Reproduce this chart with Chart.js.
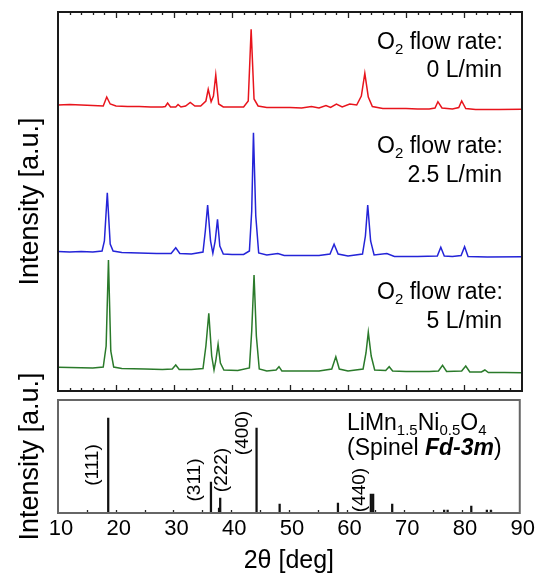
<!DOCTYPE html>
<html>
<head>
<meta charset="utf-8">
<script src="https://cdn.jsdelivr.net/npm/chart.js@4.4.1/dist/chart.umd.min.js"></script>
<style>
  html, body { margin: 0; padding: 0; background: #fff; }
  #wrap { position: relative; width: 535px; height: 584px; }
  #wrap canvas { position: absolute; left: 0; top: 0; }
</style>
</head>
<body>
<div id="wrap">
  <canvas id="xrd" width="535" height="584"></canvas>
  <canvas id="ref" width="535" height="584"></canvas>
</div>
<script>
// ---- measured patterns: 2θ [deg] and intensity [a.u.], curves already offset for stacking ----
const red2t = [10, 12, 14, 16, 17.8, 18.4, 19.0, 20, 22, 24, 26, 28, 28.5, 28.9, 29.4, 30.3, 30.7, 31.2, 32, 32.8,
  33.6, 34.6, 35.5, 35.9, 36.4, 36.8, 37.2, 37.7, 38.5, 40, 42, 42.8, 43.3, 43.8, 44.5, 46, 48, 50, 52, 53.7,
  55, 56.2, 57.0, 58.0, 59, 60.3, 61.5, 62.3, 62.9, 63.5, 64.2, 66, 70, 72, 74, 75.0, 75.5, 76.2, 78, 79.1,
  79.6, 80.3, 82, 86, 90];
const redInt = [286, 286.5, 286, 285.5, 285, 294, 287, 285, 284.5, 284.5, 284, 284, 284.5, 288, 284, 284, 286.5, 284, 285, 288.5,
  285, 285, 290, 301.7, 289.3, 295, 316, 287, 284, 284, 284, 290, 361.7, 292, 285, 283.5, 283.5, 283.5, 283, 284.5,
  283, 285.5, 283.5, 287, 284, 287, 286, 295, 317.7, 294, 284.5, 282.5, 282.5, 282, 282, 283, 289.3, 283, 282, 283.5,
  290, 282.5, 281.5, 281.5, 281.7];

const blue2t = [10, 12, 14, 16, 17.6, 18.0, 18.5, 19.0, 19.5, 21, 24, 27, 29.5, 30.3, 31.0, 33, 35.0, 35.4, 35.8, 36.3,
  36.7, 37.1, 37.5, 37.9, 38.5, 40, 42, 43.0, 43.4, 43.7, 44.1, 44.6, 46, 47.9, 49, 52, 55, 56.9, 57.6, 58.3,
  60, 62.5, 63.0, 63.4, 63.9, 64.5, 66.7, 68, 72, 75.4, 76.0, 76.6, 78, 79.5, 80.1, 80.7, 84, 90];
const blueInt = [139.5, 139, 139.5, 139, 140, 150, 198.3, 147, 140, 138.5, 138, 137.5, 137.5, 143.3, 137.5, 137, 139, 160, 186, 150,
  137.7, 150, 171.7, 145, 137, 136.5, 136.5, 140, 180, 258.3, 175, 138, 136, 137.5, 135.5, 135.5, 135.5, 137, 146.7, 137,
  135, 137, 155, 186, 150, 136, 137.5, 134.5, 134.5, 135, 143.7, 135, 134.5, 135.5, 144.3, 134.5, 134, 134.3];

const green2t = [10, 12, 14, 16, 17.8, 18.3, 18.7, 19.1, 19.6, 21, 25, 28, 29.7, 30.3, 30.9, 33, 35.0, 35.5, 36.0, 36.5,
  36.9, 37.2, 37.6, 38.0, 38.6, 41, 43.0, 43.4, 43.8, 44.2, 44.7, 46, 47.6, 48.1, 48.6, 52, 55, 57.2, 57.9, 58.5,
  60, 62.6, 63.1, 63.5, 64.0, 64.6, 66.5, 67.1, 67.7, 70, 74, 75.6, 76.3, 77.0, 79.6, 80.3, 81.0, 83.0, 83.6, 84.2,
  87, 90];
const greenInt = [23.7, 23.5, 23.3, 23, 24, 45, 131, 40, 24, 22.5, 22, 21.5, 22, 26, 21.5, 21.5, 22.5, 45, 77.7, 35,
  21, 30, 46.7, 28, 21, 20.5, 23, 60, 116, 55, 22, 20, 21, 24.3, 20, 20, 20, 22, 34.3, 22,
  20, 22, 38, 58.7, 35, 21, 20.5, 24.3, 20, 19.5, 19.5, 20, 25.7, 19.5, 20, 25, 19, 19, 21, 18.5,
  18.5, 18.3];

const flowRates = ['0 L/min', '2.5 L/min', '5 L/min'];

// ---- reference stick pattern, LiMn1.5Ni0.5O4 spinel ----
const ref2t = [18.7, 36.5, 37.9, 38.1, 44.4, 48.4, 58.5, 64.2, 64.6, 67.9, 76.9, 77.5, 81.6, 84.3, 85.0];
const refInt = [95, 31, 5, 15, 85, 9, 10, 19, 19, 9, 3, 3, 7, 3, 3];
const hklNames = ['(111)', '(311)', '(222)', '(400)', '(440)'];
const hkl2t = [18.7, 36.5, 38.1, 44.4, 64.2];

const xTickLabels = [10, 20, 30, 40, 50, 60, 70, 80, 90];

const FONT = '"Liberation Sans", Arial, sans-serif';
Chart.defaults.font.family = FONT;
Chart.defaults.color = '#000';

const toPoints = (xs, ys) => xs.map((x, i) => ({ x, y: ys[i] }));

// text with subscript / bold-italic runs
function drawRuns(ctx, runs, x, y, size, align) {
  const fontFor = k => k === 'sub' ? `${Math.round(size * 0.66)}px ${FONT}`
    : k === 'bi' ? `italic bold ${size}px ${FONT}` : `${size}px ${FONT}`;
  let total = 0;
  runs.forEach(([t, k]) => { ctx.font = fontFor(k); total += ctx.measureText(t).width; });
  let cx = align === 'right' ? x - total : x;
  ctx.textAlign = 'left';
  ctx.textBaseline = 'alphabetic';
  runs.forEach(([t, k]) => {
    ctx.font = fontFor(k);
    ctx.fillText(t, cx, k === 'sub' ? y + size * 0.2 : y);
    cx += ctx.measureText(t).width;
  });
}

// frame + inward tick marks
const panelDecor = {
  id: 'panelDecor',
  afterDraw(chart, args, o) {
    const { ctx, chartArea: a, scales: { x } } = chart;
    ctx.save();
    ctx.strokeStyle = '#222';
    ctx.lineWidth = 1.3;
    const n = Math.round((x.max - x.min) / o.step);
    ctx.beginPath();
    for (let i = 1; i < n; i++) {
      const v = x.min + i * o.step;
      const px = Math.round(x.getPixelForValue(v)) + 0.5;
      const len = (o.major && v % o.major === 0) ? o.majorLen : o.minorLen;
      if (o.topTicks) { ctx.moveTo(px, a.top); ctx.lineTo(px, a.top + len); }
      ctx.moveTo(px, a.bottom); ctx.lineTo(px, a.bottom - len);
    }
    ctx.stroke();
    ctx.lineWidth = o.frameWidth;
    ctx.strokeStyle = o.frameColor;
    ctx.strokeRect(a.left, a.top, a.right - a.left, a.bottom - a.top);
    ctx.restore();
  }
};

// flow-rate notes next to each curve
const noteBaselines = [[49, 77], [153, 181.5], [299, 327.5]];
const flowNotes = {
  id: 'flowNotes',
  afterDraw(chart) {
    const ctx = chart.ctx;
    ctx.save();
    ctx.fillStyle = '#000';
    flowRates.forEach((rate, i) => {
      const [b1, b2] = noteBaselines[i];
      drawRuns(ctx, [['O', ''], ['2', 'sub'], [' flow rate:', '']], 503, b1, 23, 'right');
      drawRuns(ctx, [[rate, '']], 502, b2, 23, 'right');
    });
    ctx.restore();
  }
};

// Miller indices next to the sticks, and the phase name
const hklLayout = [[-15, 48], [-16, 33], [1.5, 43], [-14, 80], [-11, 23]];
const refNotes = {
  id: 'refNotes',
  afterDraw(chart) {
    const { ctx, scales: { x, y } } = chart;
    ctx.save();
    ctx.fillStyle = '#000';
    ctx.font = `19px ${FONT}`;
    ctx.textAlign = 'center';
    ctx.textBaseline = 'middle';
    hklNames.forEach((name, i) => {
      const [dx, yv] = hklLayout[i];
      ctx.save();
      ctx.translate(x.getPixelForValue(hkl2t[i]) + dx, y.getPixelForValue(yv));
      ctx.rotate(-Math.PI / 2);
      ctx.fillText(name, 0, 0);
      ctx.restore();
    });
    drawRuns(ctx, [['LiMn', ''], ['1.5', 'sub'], ['Ni', ''], ['0.5', 'sub'], ['O', ''], ['4', 'sub']], 347, 430, 23, 'left');
    drawRuns(ctx, [['(Spinel ', ''], ['Fd-3m', 'bi'], [')', '']], 347, 455, 23, 'left');
    ctx.restore();
  }
};

const yTitle = {
  display: true, text: 'Intensity [a.u.]', color: '#000',
  font: { size: 27 }, padding: { top: 14, bottom: 0 }
};

new Chart(document.getElementById('xrd'), {
  type: 'line',
  data: {
    datasets: [
      { data: toPoints(red2t, redInt), borderColor: '#e8141c' },
      { data: toPoints(blue2t, blueInt), borderColor: '#2424d8' },
      { data: toPoints(green2t, greenInt), borderColor: '#2a7a2a' }
    ]
  },
  options: {
    responsive: false,
    animation: false,
    layout: { padding: { left: 0, top: 12, right: 13, bottom: 193 } },
    elements: { point: { radius: 0 }, line: { borderWidth: 1.5, tension: 0 } },
    plugins: {
      legend: { display: false },
      tooltip: { enabled: false },
      panelDecor: { step: 2, major: 10, majorLen: 6, minorLen: 3, topTicks: true, frameColor: '#1a1a1a', frameWidth: 2 }
    },
    scales: {
      x: { type: 'linear', min: 10, max: 90, display: false },
      y: {
        min: 0, max: 379,
        grid: { display: false, drawTicks: false },
        border: { display: false },
        ticks: { display: false },
        title: yTitle,
        afterFit: s => { s.width = 58; }
      }
    }
  },
  plugins: [panelDecor, flowNotes]
});

new Chart(document.getElementById('ref'), {
  type: 'bar',
  data: {
    datasets: [{
      data: toPoints(ref2t, refInt),
      backgroundColor: '#111',
      barThickness: 1.6
    }]
  },
  options: {
    responsive: false,
    animation: false,
    layout: { padding: { left: 0, top: 400, right: 13, bottom: 0 } },
    plugins: {
      legend: { display: false },
      tooltip: { enabled: false },
      panelDecor: { step: 5, major: 0, majorLen: 3, minorLen: 3, topTicks: false, frameColor: '#666', frameWidth: 2 }
    },
    scales: {
      x: {
        type: 'linear', min: 10, max: 90, offset: false,
        grid: { display: false, drawTicks: false, offset: false },
        border: { display: false },
        afterBuildTicks: s => { s.ticks = xTickLabels.map(v => ({ value: v })); },
        ticks: { padding: 3, labelOffset: 3, font: { size: 22 }, color: '#000', maxRotation: 0 },
        title: { display: true, text: '2θ [deg]', color: '#000', font: { size: 25 }, padding: { top: 0, bottom: 8 } },
        afterFit: s => { s.height = 71; }
      },
      y: {
        min: 0, max: 113,
        grid: { display: false, drawTicks: false },
        border: { display: false },
        ticks: { display: false },
        title: yTitle,
        afterFit: s => { s.width = 58; }
      }
    }
  },
  plugins: [panelDecor, refNotes]
});
</script>
</body>
</html>
